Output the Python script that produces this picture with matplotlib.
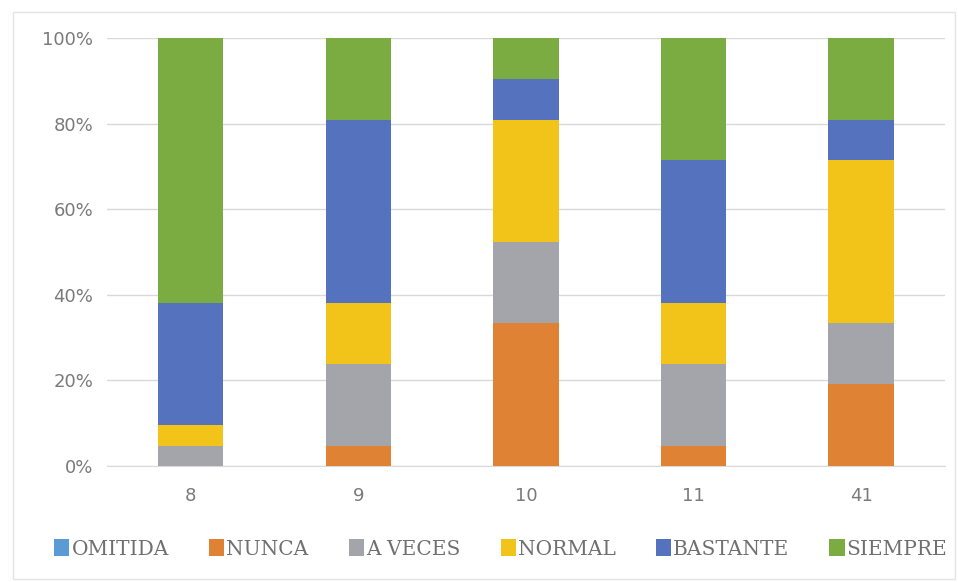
import numpy as np
import matplotlib.pyplot as plt
from matplotlib.patches import Rectangle

# categories and answer counts per category (21 answers each)
categories = ['8', '9', '10', '11', '41']
series_names = ['OMITIDA', 'NUNCA', 'A VECES', 'NORMAL', 'BASTANTE', 'SIEMPRE']
omitida = [0, 0, 0, 0, 0]
nunca = [0, 1, 7, 1, 4]
a_veces = [1, 4, 4, 4, 3]
normal = [1, 3, 6, 3, 8]
bastante = [6, 9, 2, 7, 2]
siempre = [13, 4, 2, 6, 4]
colors = ['#5B9BD5', '#DF8233', '#A3A5AA', '#F2C318', '#5472BE', '#7BAC41']

data = np.array([omitida, nunca, a_veces, normal, bastante, siempre], dtype=float)
pct = data / data.sum(axis=0) * 100

fig = plt.figure(figsize=(9.58, 5.82), dpi=100)
ax = fig.add_axes([0.1117, 0.1993, 0.8747, 0.7354])

# faint frame around the chart
fig.patches.append(Rectangle((0.014, 0.005), 0.983, 0.975, transform=fig.transFigure,
                             fill=False, edgecolor='#E4E4E4', linewidth=1))

x = np.arange(len(categories))
bottom = np.zeros(len(categories))
for name, vals, c in zip(series_names, pct, colors):
    ax.bar(x, vals, 0.39, bottom=bottom, color=c, label=name, zorder=3)
    bottom += vals

ax.set_xlim(-0.5, len(categories) - 0.5)
ax.set_ylim(0, 100)
ax.set_yticks(range(0, 101, 20))
ax.set_yticklabels(['%d%%' % v for v in range(0, 101, 20)])
ax.set_xticks(x)
ax.set_xticklabels(categories)
ax.yaxis.grid(True, color='#D9D9D9', linewidth=1, zorder=0)
for s in ['top', 'right', 'left']:
    ax.spines[s].set_visible(False)
ax.spines['bottom'].set_color('#D9D9D9')
ax.tick_params(axis='both', length=0, colors='#7A7A7A', labelsize=13)
ax.tick_params(axis='y', pad=10)
ax.tick_params(axis='x', pad=15)

leg = ax.legend(loc='upper center', bbox_to_anchor=(0.47, -0.128), ncol=6, frameon=False,
                handlelength=0.75, handleheight=0.95, handletextpad=0.1, columnspacing=2.0,
                prop={'family': 'DejaVu Serif', 'size': 14.5})
for t in leg.get_texts():
    t.set_color('#707070')

fig.savefig('out.png', dpi=100)
